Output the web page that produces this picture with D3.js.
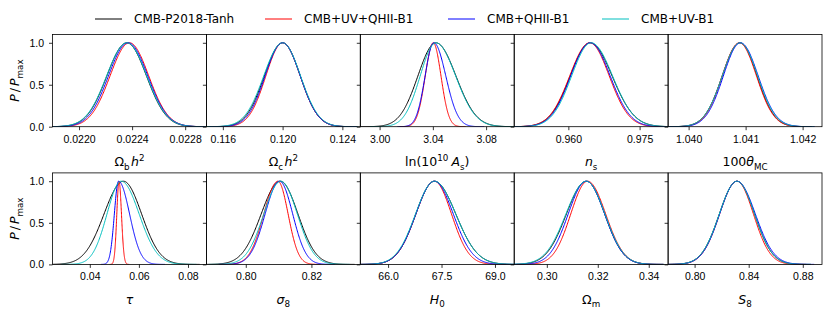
<!DOCTYPE html>
<html>
<head>
<meta charset="utf-8">
<script src="https://cdn.jsdelivr.net/npm/d3@7"></script>
<style>
  body { margin: 0; background: #fff; }
  svg { display: block; font-family: "DejaVu Sans", sans-serif; }
  .tick text { font-size: 10.5px; fill: #000; }
  .tick line { stroke: #000; stroke-width: 0.8; }
</style>
</head>
<body>
<svg width="830" height="317"></svg>
<script>
// series
var seriesNames = ["CMB-P2018-Tanh", "CMB+UV+QHII-B1", "CMB+QHII-B1", "CMB+UV-B1"];

// parameters (one panel each)
var params = ["ombh2", "omch2", "logA", "ns", "theta", "tau", "sigma8", "H0", "omegam", "S8"];

var xDomains = [
  [0.02180, 0.02296], [0.1149, 0.1252], [2.9855, 3.1011], [0.9486, 0.9810], [1.03964, 1.04234],
  [0.0248, 0.0875], [0.7880, 0.8349], [65.22, 69.54], [0.2872, 0.3476], [0.7804, 0.8942]
];
var xTicks = [
  [0.0220, 0.0224, 0.0228], [0.116, 0.120, 0.124], [3.00, 3.04, 3.08], [0.960, 0.975], [1.040, 1.041, 1.042],
  [0.04, 0.06, 0.08], [0.80, 0.82], [66.0, 67.5, 69.0], [0.30, 0.32, 0.34], [0.80, 0.84, 0.88]
];
var xTickLabels = [
  ["0.0220", "0.0224", "0.0228"], ["0.116", "0.120", "0.124"], ["3.00", "3.04", "3.08"], ["0.960", "0.975"],
  ["1.040", "1.041", "1.042"], ["0.04", "0.06", "0.08"], ["0.80", "0.82"], ["66.0", "67.5", "69.0"],
  ["0.30", "0.32", "0.34"], ["0.80", "0.84", "0.88"]
];
var yTicks = [0, 0.5, 1.0];
var yTickLabels = ["0.0", "0.5", "1.0"];

// peak position and left/right widths of each marginal
var meanTanh = [0.02236, 0.1200, 3.0423, 0.9646, 1.04090, 0.0537, 0.8105, 67.30, 0.3155, 0.8313];
var loTanh   = [0.000150, 0.00122, 0.0135, 0.0042, 0.00031, 0.0079, 0.0058, 0.52, 0.0078, 0.0130];
var hiTanh   = [0.000148, 0.00118, 0.0150, 0.0046, 0.00030, 0.0074, 0.0054, 0.60, 0.0072, 0.0130];

var meanUvQhii = [0.02238, 0.1200, 3.0403, 0.9645, 1.04089, 0.0519, 0.8098, 67.30, 0.3160, 0.8313];
var loUvQhii   = [0.000146, 0.00112, 0.0060, 0.0042, 0.00030, 0.0009, 0.0043, 0.52, 0.0066, 0.0128];
var hiUvQhii   = [0.000145, 0.00118, 0.0058, 0.0041, 0.00030, 0.0010, 0.0031, 0.48, 0.0071, 0.0122];

var meanQhii = [0.02237, 0.1200, 3.0407, 0.9646, 1.04091, 0.0517, 0.8103, 67.30, 0.3155, 0.8313];
var loQhii   = [0.000148, 0.00117, 0.0065, 0.0041, 0.00030, 0.0017, 0.0044, 0.52, 0.0071, 0.0128];
var hiQhii   = [0.000148, 0.00118, 0.0090, 0.0042, 0.00031, 0.0045, 0.0040, 0.53, 0.0072, 0.0136];

var meanUv = [0.02236, 0.1200, 3.0423, 0.9648, 1.04090, 0.0528, 0.8107, 67.30, 0.3155, 0.8313];
var loUv   = [0.000152, 0.00126, 0.0118, 0.0041, 0.00031, 0.0058, 0.0052, 0.53, 0.0080, 0.0130];
var hiUv   = [0.000150, 0.00120, 0.0148, 0.0045, 0.00031, 0.0073, 0.0050, 0.60, 0.0073, 0.0130];

var means = [meanTanh, meanUvQhii, meanQhii, meanUv],
    los = [loTanh, loUvQhii, loQhii, loUv],
    his = [hiTanh, hiUvQhii, hiQhii, hiUv];

var colors = ["#000000", "#ff0000", "#0000ff", "#00bfbf"];

// axis labels as pieces: it = italic, sub / sup, gap = small space before
var xLabels = [
  [{t: "Ω"}, {t: "b", sub: 1}, {t: "h", it: 1, gap: 1.5}, {t: "2", sup: 1}],
  [{t: "Ω"}, {t: "c", sub: 1}, {t: "h", it: 1, gap: 1.5}, {t: "2", sup: 1}],
  [{t: "ln(10"}, {t: "10", sup: 1}, {t: "A", it: 1, gap: 3}, {t: "s", sub: 1}, {t: ")"}],
  [{t: "n", it: 1}, {t: "s", sub: 1}],
  [{t: "100"}, {t: "θ", it: 1}, {t: "MC", sub: 1}],
  [{t: "τ", it: 1}],
  [{t: "σ", it: 1}, {t: "8", sub: 1}],
  [{t: "H", it: 1}, {t: "0", sub: 1}],
  [{t: "Ω"}, {t: "m", sub: 1}],
  [{t: "S", it: 1}, {t: "8", sub: 1}]
];
var yLabel = [{t: "P", it: 1}, {t: "/", gap: 2}, {t: "P", it: 1, gap: 2}, {t: "max", sub: 1}];

var svg = d3.select("svg"),
    left = 52.5, panelW = 153.9,
    rows = [{top: 34.4, bottom: 126.7}, {top: 172.9, bottom: 264.4}];

function mathText(sel, parts, size) {
  var prev = 0;
  parts.forEach(function(p) {
    var shift = p.sub ? 0.28 : p.sup ? -0.42 : 0;
    sel.append("tspan")
      .attr("font-size", (p.sub || p.sup) ? size * 0.7 : size)
      .attr("font-style", p.it ? "italic" : "normal")
      .attr("dx", p.gap || 0)
      .attr("dy", ((shift - prev) * size) + "px")
      .text(p.t);
    prev = shift;
  });
}

var defs = svg.append("defs");

params.forEach(function(name, i) {
  var row = rows[Math.floor(i / 5)],
      col = i % 5,
      x0 = left + col * panelW;

  var x = d3.scaleLinear().domain(xDomains[i]).range([x0, x0 + panelW]);
  var y = d3.scaleLinear().domain([0, 1.1]).range([row.bottom, row.top]);

  defs.append("clipPath").attr("id", "clip" + i)
    .append("rect")
      .attr("x", x0).attr("y", row.top)
      .attr("width", panelW).attr("height", row.bottom - row.top);

  var g = svg.append("g");

  // curves
  var line = d3.line()
      .x(function(d) { return x(d[0]); })
      .y(function(d) { return y(d[1]); });

  var curves = g.append("g").attr("clip-path", "url(#clip" + i + ")");
  for (var s = 0; s < seriesNames.length; s++) {
    var m = means[s][i], lo = los[s][i], hi = his[s][i];
    var pts = d3.range(0, 301).map(function(k) {
      var v = m - 4.2 * lo + k / 300 * 4.2 * (lo + hi);
      var sd = v < m ? lo : hi;
      return [v, Math.exp(-0.5 * Math.pow((v - m) / sd, 2))];
    });
    curves.append("path")
      .datum(pts)
      .attr("fill", "none")
      .attr("stroke", colors[s])
      .attr("stroke-width", 1)
      .attr("d", line);
  }

  // x axis
  var xa = g.append("g")
    .attr("transform", "translate(0," + row.bottom + ")")
    .call(d3.axisBottom(x)
      .tickValues(xTicks[i])
      .tickSize(3.5)
      .tickPadding(5)
      .tickFormat(function(d, k) { return xTickLabels[i][k]; }));
  xa.select(".domain").remove();

  // y axis
  var ya = g.append("g")
    .attr("transform", "translate(" + x0 + ",0)")
    .call(d3.axisLeft(y)
      .tickValues(yTicks)
      .tickSize(3.5)
      .tickPadding(5)
      .tickFormat(function(d, k) { return col === 0 ? yTickLabels[k] : ""; }));
  ya.select(".domain").remove();

  // frame
  g.append("rect")
    .attr("x", x0).attr("y", row.top)
    .attr("width", panelW).attr("height", row.bottom - row.top)
    .attr("fill", "none")
    .attr("stroke", "#000")
    .attr("stroke-width", 0.8);

  // x label
  var lab = g.append("text")
    .attr("x", x0 + panelW / 2)
    .attr("y", row.bottom + 39.5)
    .attr("text-anchor", "middle")
    .attr("fill", "#000");
  mathText(lab, xLabels[i], 12.5);

  if (col === 0) {
    var cy = (row.top + row.bottom) / 2;
    var yl = g.append("text")
      .attr("transform", "translate(19," + cy + ") rotate(-90)")
      .attr("text-anchor", "middle")
      .attr("fill", "#000");
    mathText(yl, yLabel, 12.5);
  }
});

// legend
var legendX = [95, 265, 448, 602];
var legend = svg.append("g")
  .selectAll("g")
  .data(seriesNames)
  .enter().append("g")
    .attr("transform", function(d, i) { return "translate(" + legendX[i] + ",19)"; });

legend.append("line")
  .attr("x1", 0).attr("x2", 27)
  .attr("stroke", function(d, i) { return colors[i]; })
  .attr("stroke-width", 1);

legend.append("text")
  .attr("x", 39)
  .attr("dy", "0.35em")
  .attr("font-size", 12)
  .attr("fill", "#000")
  .text(function(d) { return d; });
</script>
</body>
</html>
